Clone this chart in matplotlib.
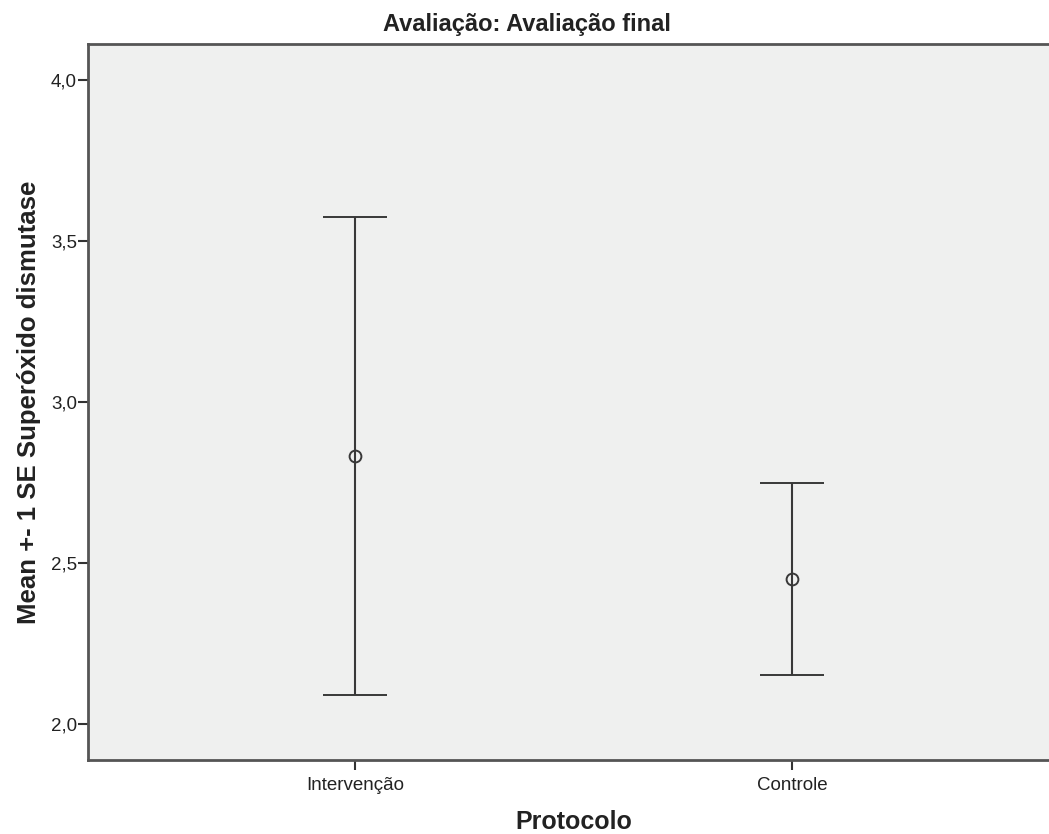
import numpy as np
import matplotlib
matplotlib.use("Agg")
import matplotlib.pyplot as plt

# Data
groups = ['Intervenção', 'Controle']
means = [2.833, 2.450]
se = [0.743, 0.298]
yticks = [2.0, 2.5, 3.0, 3.5, 4.0]

plt.rcParams['font.family'] = ['Liberation Sans', 'DejaVu Sans']

fig = plt.figure(figsize=(10.49, 8.34), dpi=100)
W, H = 1049, 834
ax = fig.add_axes([88 / W, (H - 760) / H, (1059 - 88) / W, (760 - 44) / H])
ax.set_facecolor('#eff0ef')

x = np.arange(1, len(groups) + 1)
ax.errorbar(x, means, yerr=se, fmt='o', color='#383838', mfc='none', mec='#383838',
            ms=8.5, mew=1.4, elinewidth=1.5, capsize=23, capthick=2.2)

ax.set_xlim(0.389, 2.611)
ax.set_ylim(1.888, 4.112)
ax.set_xticks(x)
ax.set_xticklabels(groups, fontsize=13.5, color='#222222')
ax.set_yticks(yticks)
ax.set_yticklabels([f'{v:.1f}'.replace('.', ',') for v in yticks],
                   fontsize=13.5, color='#222222')
ax.tick_params(axis='both', length=7, width=1.5, color='#333333')
ax.tick_params(axis='y', pad=1)
ax.tick_params(axis='x', pad=5)

for s in ['left', 'bottom', 'top']:
    ax.spines[s].set_linewidth(2)
    ax.spines[s].set_color('#555555')
ax.spines['right'].set_visible(False)

ax.set_ylabel('Mean +- 1 SE Superóxido dismutase', fontsize=18.5, fontweight='bold',
              color='#222222', labelpad=7)
ax.set_xlabel('Protocolo', fontsize=18, fontweight='bold', color='#222222', labelpad=12)
fig.text(527 / W, 1 - 25 / H, 'Avaliação: Avaliação final', ha='center', va='center',
         fontsize=17, fontweight='bold', color='#222222')

fig.savefig('out.png', dpi=100)
